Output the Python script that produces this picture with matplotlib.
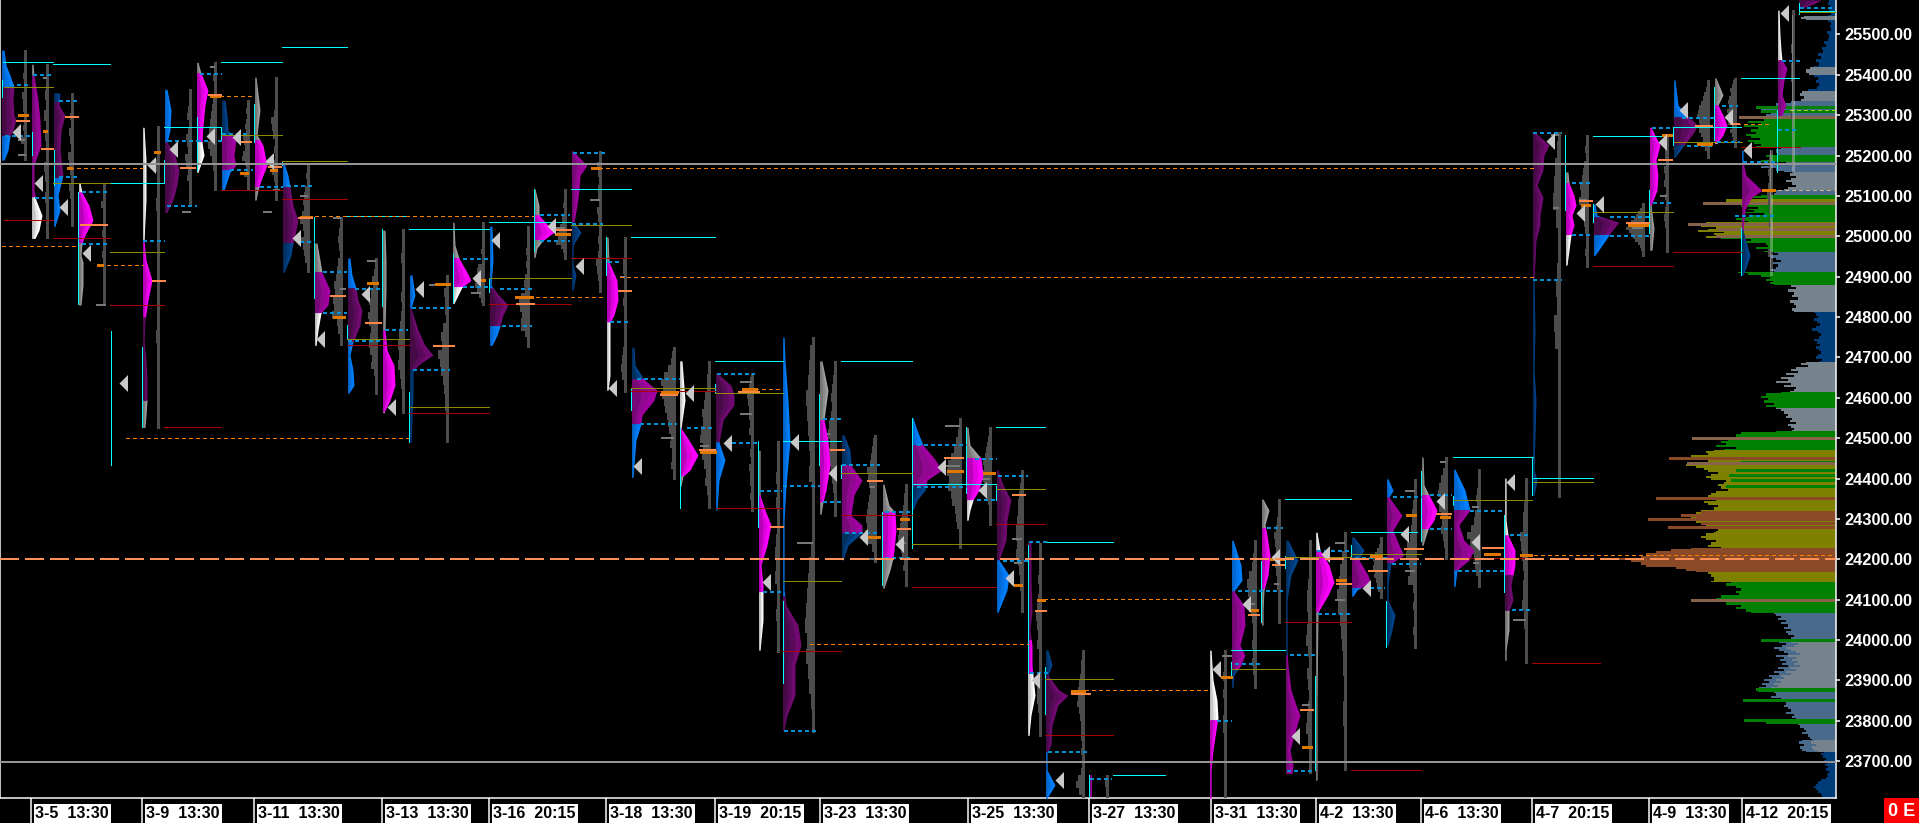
import numpy as np
from matplotlib import pyplot as plt
from matplotlib.patches import Rectangle

# session profiles: left edge, price knots, widths, value area, zone colours
prof_x = [2, 32, 54, 79, 143, 165, 197, 222, 255, 283, 315, 348, 383, 410, 453, 490, 534, 572, 607, 632, 680, 716, 759, 783, 820, 842, 883, 912, 967, 997, 1028, 1046, 1090, 1210, 1232, 1262, 1286, 1316, 1352, 1387, 1422, 1454, 1505, 1533, 1566, 1594, 1650, 1674, 1715, 1742, 1778, 1799]
prof_p = [
    [25461, 25424, 25399, 25370, 25337, 25300, 25288, 25263, 25248, 25213, 25189],
    [25426, 25399, 25337, 25288, 25226, 25176, 25114, 25090, 25052, 25015, 24995],
    [25355, 25325, 25300, 25263, 25213, 25151, 25102, 25065, 25025],
    [25132, 25109, 25077, 25040, 25003, 24983, 24953, 24936, 24879, 24830],
    [25270, 25189, 25090, 24990, 24941, 24891, 24842, 24792, 24743, 24693, 24644, 24594, 24557, 24527],
    [25364, 25313, 25263, 25233, 25201, 25164, 25127, 25090, 25060],
    [25431, 25404, 25362, 25325, 25275, 25233, 25201, 25159],
    [25337, 25300, 25263, 25238, 25201, 25176, 25159, 25114],
    [25394, 25313, 25251, 25226, 25176, 25139, 25114, 25090],
    [25181, 25151, 25122, 25077, 25040, 25003, 24983, 24953, 24911],
    [24983, 24941, 24911, 24867, 24830, 24810, 24768, 24730],
    [24946, 24904, 24872, 24842, 24817, 24780, 24738, 24706, 24669, 24631, 24612],
    [25015, 24941, 24867, 24768, 24718, 24681, 24631, 24594, 24564],
    [24904, 24854, 24822, 24768, 24730, 24706, 24681, 24664, 24607, 24490],
    [25035, 24978, 24946, 24911, 24891, 24874, 24854, 24834],
    [25025, 24941, 24879, 24854, 24830, 24805, 24778, 24755, 24730],
    [25117, 25077, 25052, 25028, 25010, 24990, 24971, 24948],
    [25211, 25176, 25151, 25114, 25077, 25035, 25010, 24978, 24929, 24904, 24867],
    [24998, 24936, 24891, 24842, 24805, 24787, 24718, 24656, 24619],
    [24725, 24681, 24646, 24619, 24594, 24557, 24535, 24495, 24403],
    [24691, 24594, 24525, 24495, 24458, 24421, 24406, 24381],
    [24661, 24631, 24607, 24582, 24545, 24490, 24446, 24396, 24322],
    [24470, 24396, 24359, 24322, 24285, 24235, 24186, 24136, 24119, 24049, 23975],
    [24750, 24693, 24594, 24495, 24381, 24297, 24124, 24086, 24037, 23987, 23938, 23863, 23814, 23777],
    [24691, 24619, 24545, 24495, 24433, 24371, 24342, 24312],
    [24508, 24470, 24433, 24396, 24359, 24309, 24285, 24265, 24235, 24198],
    [24386, 24334, 24317, 24272, 24223, 24203, 24173, 24129],
    [24550, 24520, 24483, 24451, 24421, 24396, 24371, 24347, 24322],
    [24527, 24483, 24451, 24408, 24371, 24347, 24322, 24297],
    [24421, 24384, 24347, 24297, 24247, 24198, 24161, 24124, 24069],
    [24240, 24148, 24074, 24024, 23987, 23938, 23913, 23863, 23814, 23764],
    [23975, 23938, 23913, 23876, 23863, 23839, 23789, 23740, 23722, 23678, 23641, 23608],
    [23665, 23610],
    [23975, 23901, 23851, 23807, 23777, 23727, 23678, 23608],
    [24247, 24186, 24148, 24121, 24086, 24037, 23987, 23963, 23938, 23913, 23883],
    [24349, 24322, 24285, 24260, 24210, 24161, 24124, 24074, 24037],
    [24247, 24198, 24161, 24099, 23975, 23938, 23876, 23839, 23814, 23764, 23727, 23690, 23670],
    [24267, 24223, 24186, 24143, 24111, 24069, 23851, 23653],
    [24255, 24223, 24198, 24161, 24143, 24124, 24109],
    [24399, 24371, 24354, 24309, 24272, 24235, 24210, 24190, 24136, 24099, 24062, 24025, 23987],
    [24453, 24384, 24359, 24322, 24297, 24275, 24235],
    [24423, 24371, 24322, 24285, 24247, 24223, 24198, 24173, 24133],
    [24401, 24297, 24260, 24223, 24186, 24136, 24099, 24074, 24025, 23975, 23950],
    [25258, 25226, 25201, 25164, 25127, 25097, 25052, 25028, 24990, 24891, 24768, 24669, 24594, 24421, 24396, 24359],
    [25159, 25132, 25102, 25077, 25052, 25028, 25003, 24966, 24929],
    [25080, 25052, 25035, 25020, 25003, 24978, 24953],
    [25270, 25226, 25189, 25151, 25114, 25077, 25020, 24966],
    [25387, 25325, 25295, 25275, 25251, 25226, 25196],
    [25392, 25350, 25325, 25300, 25275, 25251, 25231],
    [25213, 25184, 25151, 25114, 25097, 25077, 25065, 25015, 24953, 24929, 24904],
    [25560, 25498, 25461, 25436, 25417, 25387, 25350, 25325, 25300],
    [25585, 25575, 25568],
]
prof_w = [
    [2, 4, 8, 12, 11, 12, 14, 11, 8, 6, 2],
    [1, 2, 6, 8, 9, 2, 2, 4, 10, 7, 3],
    [6, 5, 11, 7, 6, 9, 4, 6, 1],
    [1, 3, 10, 14, 6, 3, 2, 4, 4, 2],
    [1, 3, 3, 1, 3, 9, 5, 2, 1, 3, 4, 4, 3, 2],
    [2, 6, 5, 2, 10, 14, 12, 8, 2],
    [1, 4, 11, 8, 6, 5, 7, 1],
    [3, 5, 6, 14, 12, 14, 8, 2],
    [1, 5, 2, 8, 12, 6, 3, 1],
    [1, 5, 7, 10, 15, 12, 10, 8, 1],
    [2, 5, 7, 15, 13, 6, 3, 1],
    [2, 4, 8, 10, 14, 12, 5, 2, 5, 6, 1],
    [2, 3, 3, 2, 4, 11, 12, 7, 1],
    [2, 5, 1, 8, 15, 23, 8, 3, 3, 1],
    [1, 2, 6, 14, 18, 9, 5, 1],
    [2, 3, 1, 9, 18, 13, 10, 7, 2],
    [1, 5, 5, 14, 20, 9, 3, 1],
    [1, 15, 8, 7, 5, 2, 9, 1, 1, 4, 1],
    [1, 2, 10, 11, 7, 3, 3, 3, 1],
    [2, 3, 12, 25, 22, 10, 9, 4, 1],
    [2, 5, 1, 9, 18, 10, 3, 1],
    [1, 15, 18, 18, 7, 3, 9, 3, 1],
    [1, 1, 1, 6, 12, 8, 2, 4, 4, 4, 1],
    [1, 2, 5, 7, 3, 1, 1, 3, 15, 18, 12, 12, 4, 1],
    [2, 8, 4, 8, 10, 6, 3, 1],
    [2, 8, 9, 20, 12, 9, 20, 20, 6, 1],
    [1, 6, 12, 13, 11, 10, 7, 1],
    [1, 5, 11, 22, 30, 15, 13, 5, 1],
    [1, 3, 14, 16, 12, 6, 3, 1],
    [1, 6, 14, 10, 9, 2, 12, 10, 1],
    [3, 3, 4, 2, 4, 4, 5, 7, 3, 1],
    [2, 6, 2, 13, 22, 12, 6, 5, 1, 1, 9, 1],
    [2, 2],
    [1, 3, 7, 8, 6, 3, 1, 1],
    [1, 9, 10, 2, 12, 13, 8, 13, 9, 2, 1],
    [1, 7, 3, 5, 8, 6, 2, 1, 1],
    [2, 12, 5, 1, 1, 2, 5, 10, 14, 8, 4, 7, 6],
    [1, 4, 13, 18, 12, 2, 1, 1],
    [2, 12, 7, 16, 18, 5, 1],
    [1, 6, 2, 15, 6, 12, 17, 4, 1, 1, 8, 5, 1],
    [1, 2, 7, 15, 12, 6, 1],
    [1, 11, 16, 5, 10, 20, 15, 3, 1],
    [1, 1, 3, 10, 10, 6, 8, 4, 4, 1, 1],
    [2, 16, 11, 10, 4, 10, 7, 7, 3, 1, 2, 1, 3, 1, 4, 1],
    [2, 3, 8, 10, 6, 8, 5, 3, 1],
    [1, 3, 25, 20, 15, 8, 1],
    [1, 10, 6, 8, 7, 1, 4, 2],
    [1, 4, 15, 24, 18, 10, 1],
    [1, 8, 3, 8, 12, 8, 2],
    [1, 1, 4, 20, 10, 5, 3, 1, 8, 5, 1],
    [1, 2, 3, 4, 9, 6, 4, 8, 4],
    [22, 14, 6],
]
prof_vah = [25370, 25399, 25332, 25109, 24990, 25233, 25404, 25250, 25238, 25122, 24911, 24872, 24768, 24822, 24946, 24872, 25052, 25211, 24936, 24646, 24525, 24661, 24359, 24381, 24545, 24433, 24317, 24483, 24451, 24421, 24240, 23913, 23665, 23802, 24121, 24277, 23963, 24223, 24198, 24354, 24359, 24322, 24260, 25258, 25132, 25048, 25270, 25295, 25325, 25184, 25436, 25585]
prof_val = [25248, 25097, 25144, 24983, 24594, 25060, 25233, 25164, 25122, 24983, 24810, 24738, 24564, 24669, 24874, 24778, 24990, 25035, 24787, 24535, 24406, 24490, 24119, 23777, 24342, 24265, 24203, 24381, 24347, 24198, 23918, 23722, 23610, 23608, 23925, 24126, 23670, 24069, 24129, 24190, 24275, 24173, 24074, 24891, 25003, 25003, 25077, 25226, 25231, 25015, 25300, 25568]
prof_top = ['blue', 'grey', 'dkblue', 'white', 'white', 'blue', 'grey', 'dkblue', 'grey', 'blue', 'grey', 'blue', 'grey', 'blue', 'grey', 'blue', 'grey', 'mid', 'grey', 'dkblue', 'white', 'mid', 'grey', 'blue', 'grey', 'dkblue', 'grey', 'blue', 'grey', 'mid', 'mid', 'dkblue', 'mid', 'white', 'blue', 'grey', 'dkblue', 'white', 'dkblue', 'blue', 'grey', 'blue', 'white', 'mid', 'grey', 'blue', 'mid', 'blue', 'grey', 'blue', 'white', 'dark']
prof_mid = ['dark', 'mid', 'dark', 'bright', 'bright', 'dark', 'bright', 'mid', 'bright', 'dark', 'mid', 'dark', 'bright', 'dark', 'bright', 'dark', 'bright', 'mid', 'bright', 'mid', 'bright', 'dark', 'bright', 'blue', 'bright', 'mid', 'bright', 'mid', 'bright', 'dark', 'dark', 'dark', 'mid', 'bright', 'mid', 'bright', 'mid', 'bright', 'mid', 'mid', 'bright', 'mid', 'bright', 'dark', 'bright', 'dark', 'bright', 'dark', 'bright', 'mid', 'mid', 'dark']
prof_bot = ['blue', 'white', 'blue', 'grey', 'grey', 'dark', 'white', 'blue', 'grey', 'dkblue', 'white', 'blue', 'white', 'dkblue', 'white', 'blue', 'grey', 'dkblue', 'white', 'blue', 'grey', 'blue', 'white', 'dark', 'grey', 'dkblue', 'grey', 'dkblue', 'white', 'blue', 'white', 'blue', 'mid', 'bright', 'dkblue', 'grey', 'mid', 'grey', 'blue', 'dkblue', 'grey', 'blue', 'grey', 'dkblue', 'white', 'blue', 'grey', 'dkblue', 'white', 'dkblue', 'mid', 'dark']
# a few sessions change shade inside the value area: index, price, lower shade
split_i = [4, 23, 30, 42]
split_p = [24800, 24110, 24000, 24160]
split_col = ['dark', 'dark', 'bright', 'dark']

# grey profile column that belongs to each session
bar_x = [25, 47, 72, 104, 158, 190, 215, 248, 276, 308, 341, 376, 403, 447, 483, 528, 565, 600, 625, 674, 709, 752, 778, 813, 835, 875, 906, 960, 990, 1022, 1040, 1083, 1107, 1225, 1255, 1279, 1310, 1345, 1381, 1415, 1446, 1479, 1526, 1559, 1587, 1643, 1667, 1708, 1735, 1771, 1793, 1800]
bar_hi = [25461, 25426, 25355, 25132, 25273, 25364, 25431, 25337, 25394, 25181, 25048, 24946, 25018, 24904, 25035, 25025, 25117, 25211, 24998, 24725, 24691, 24661, 24493, 24750, 24691, 24508, 24386, 24550, 24527, 24421, 24240, 23975, 23665, 23975, 24247, 24349, 24247, 24267, 24255, 24399, 24453, 24423, 24401, 25258, 25251, 25082, 25251, 25387, 25392, 25213, 25560, 25568]
bar_lo = [25189, 24995, 25025, 24830, 24525, 25077, 25114, 25114, 25090, 24911, 24730, 24609, 24562, 24490, 24830, 24726, 24944, 24862, 24614, 24398, 24327, 24319, 23970, 23772, 24307, 24193, 24134, 24227, 24285, 24069, 23762, 23608, 23608, 23608, 23881, 24042, 23670, 23678, 24104, 23980, 24200, 24131, 23943, 24354, 24924, 24951, 24961, 25194, 25221, 24904, 25159, 25568]
grey_w = [
    [0, 0, 1, 0, 2, 1, 1, 3, 2, 2, 1, 0, 2, 1, 4, 1, 1, 0],
    [0, 1, 0, 2, 1, 3, 1, 2, 1, 1, 3, 2, 1, 2, 1, 1, 0, 0],
    [0, 0, 1, 2, 1, 3, 2, 1, 4, 3, 2, 1, 3, 2, 1, 1, 0, 0],
    [0, 1, 1, 3, 1, 0, 1, 2, 1, 1, 2, 1, 1, 0, 1, 0, 1, 0],
    [0, 0, 1, 2, 1, 1, 2, 1, 1, 0, 1, 1, 0, 1, 0, 1, 2, 1, 1, 0, 1, 1, 0, 0],
    [0, 1, 1, 2, 3, 1, 2, 4, 3, 2, 5, 4, 2, 3, 1, 1, 0, 0],
    [0, 1, 2, 1, 1, 2, 3, 4, 5, 6, 4, 7, 5, 3, 2, 1, 1, 0],
    [0, 1, 2, 1, 2, 3, 2, 5, 4, 3, 5, 6, 3, 2, 4, 1, 1, 0],
    [0, 0, 1, 1, 0, 2, 5, 4, 3, 1, 2, 1, 2, 4, 2, 1, 1, 0],
    [0, 1, 2, 1, 3, 4, 5, 4, 6, 8, 5, 4, 7, 5, 4, 3, 1, 0],
    [0, 1, 2, 3, 2, 1, 3, 4, 5, 7, 6, 8, 7, 9, 4, 3, 1, 0],
    [0, 1, 2, 4, 3, 5, 7, 6, 8, 7, 5, 6, 7, 6, 4, 5, 2, 1, 1, 0],
    [0, 1, 1, 2, 1, 1, 1, 2, 1, 2, 3, 4, 5, 4, 5, 3, 2, 1, 1, 0],
    [0, 1, 3, 2, 2, 1, 4, 6, 5, 9, 7, 6, 4, 3, 2, 2, 1, 1, 0, 0],
    [0, 0, 1, 0, 1, 1, 2, 1, 1, 5, 6, 5, 4, 8, 6, 4, 2, 1],
    [0, 1, 0, 1, 2, 1, 2, 1, 3, 4, 3, 7, 9, 8, 6, 7, 7, 3, 1, 0],
    [0, 0, 1, 1, 2, 1, 1, 3, 3, 5, 6, 8, 7, 9, 4, 2, 1, 0],
    [0, 1, 3, 2, 1, 2, 2, 1, 3, 2, 1, 1, 2, 1, 2, 4, 3, 2, 1, 0],
    [0, 1, 1, 2, 2, 1, 1, 1, 2, 1, 1, 0, 1, 1, 2, 3, 4, 3, 1, 0],
    [0, 2, 3, 6, 10, 13, 11, 12, 10, 9, 7, 6, 5, 3, 4, 2, 2, 3, 1, 0],
    [0, 1, 2, 2, 4, 5, 7, 6, 8, 9, 6, 7, 5, 3, 4, 2, 1, 0],
    [0, 2, 3, 5, 4, 3, 3, 2, 3, 1, 1, 2, 1, 3, 2, 2, 1, 2, 1, 0],
    [0, 0, 1, 2, 1, 2, 1, 1, 2, 3, 2, 3, 1, 1, 2, 1, 1, 0],
    [0, 3, 4, 5, 7, 6, 5, 4, 3, 4, 1, 0, 1, 1, 2, 4, 5, 6, 7, 8, 6, 7, 5, 4, 2, 1, 0],
    [0, 1, 2, 3, 4, 3, 4, 6, 7, 5, 8, 6, 4, 3, 2, 1, 0, 0],
    [0, 2, 3, 4, 5, 8, 7, 6, 5, 6, 7, 8, 9, 8, 10, 7, 3, 1, 0],
    [0, 1, 2, 2, 3, 4, 5, 6, 7, 8, 6, 5, 4, 2, 3, 1, 0, 0],
    [0, 1, 2, 4, 6, 9, 12, 13, 11, 12, 9, 8, 5, 4, 3, 1, 1, 0],
    [0, 1, 2, 3, 4, 5, 7, 6, 8, 7, 6, 5, 3, 2, 1, 1, 0, 0],
    [0, 1, 2, 3, 4, 4, 5, 6, 6, 5, 6, 4, 3, 2, 2, 1, 1, 0],
    [0, 0, 1, 1, 2, 1, 2, 3, 4, 3, 2, 3, 1, 1, 1, 2, 3, 3, 2, 1, 1, 0],
    [0, 1, 2, 2, 3, 4, 5, 5, 6, 4, 3, 2, 2, 2, 1, 2, 1, 1, 2, 5, 7, 4, 1],
    [1, 2, 1, 0],
    [0, 1, 1, 2, 1, 2, 1, 1, 2, 2, 1, 1, 1, 0, 1, 1, 0, 0],
    [0, 1, 2, 3, 6, 8, 7, 5, 4, 3, 2, 2, 3, 2, 3, 2, 1, 0],
    [0, 1, 1, 2, 3, 5, 4, 3, 2, 4, 3, 2, 2, 1, 1, 1, 0, 0],
    [0, 0, 1, 1, 2, 3, 3, 2, 3, 4, 2, 1, 3, 2, 1, 2, 3, 4, 2, 1, 1, 0],
    [0, 1, 3, 5, 6, 8, 7, 5, 4, 3, 2, 2, 1, 1, 2, 2, 1, 1, 1, 0],
    [0, 1, 2, 4, 6, 8, 7, 8, 6, 7, 5, 4, 3, 1, 0],
    [0, 1, 1, 2, 3, 3, 4, 5, 8, 9, 6, 5, 7, 2, 1, 2, 1, 1, 2, 1, 0],
    [0, 1, 3, 5, 7, 8, 6, 7, 5, 4, 5, 3, 2, 1, 0],
    [0, 1, 1, 2, 3, 2, 4, 5, 8, 12, 9, 8, 5, 4, 3, 1, 0],
    [0, 1, 1, 2, 3, 3, 6, 5, 4, 3, 2, 3, 3, 4, 2, 2, 1, 1, 0, 0],
    [0, 2, 4, 5, 6, 3, 1, 1, 2, 3, 2, 5, 4, 1, 0, 0, 1, 0, 0, 0, 0, 0],
    [0, 1, 2, 1, 3, 4, 5, 7, 6, 8, 6, 4, 3, 2, 1, 1, 2, 1, 0],
    [0, 1, 3, 5, 7, 9, 12, 15, 17, 14, 12, 10, 8, 5, 3, 2, 1, 0],
    [0, 1, 2, 2, 1, 3, 2, 3, 1, 2, 1, 2, 3, 2, 1, 1, 0, 0],
    [0, 1, 2, 4, 5, 7, 9, 10, 11, 9, 8, 9, 7, 5, 6, 3, 1, 0],
    [1, 2, 3, 5, 4, 6, 7, 6, 8, 6, 5, 7, 3, 5, 3, 2, 1, 0],
    [1, 2, 2, 3, 2, 3, 4, 3, 2, 1, 2, 1, 1, 0, 3, 1, 1, 0],
    [0, 1, 1, 1, 2, 1, 2, 2, 1, 1, 1, 2, 1, 1, 0, 1, 1, 0],
    [0, 0],
]
grey_tick_x1 = [18, 18, 43, 96, 96, 182, 210, 273, 263, 300, 333, 340, 367, 429, 471, 555, 590, 620, 660, 661, 700, 740, 740, 797, 820, 870, 868, 900, 945, 945, 975, 1012, 1014, 1222, 1246, 1274, 1302, 1335, 1335, 1370, 1405, 1405, 1440, 1472, 1473, 1513, 1551, 1553, 1632, 1579, 1660]
grey_tick_x2 = [26, 25, 47, 105, 106, 191, 215, 280, 272, 308, 341, 346, 376, 447, 481, 565, 600, 625, 672, 674, 709, 752, 752, 813, 830, 875, 875, 906, 960, 960, 990, 1022, 1022, 1232, 1255, 1279, 1310, 1345, 1345, 1381, 1415, 1415, 1446, 1479, 1479, 1526, 1559, 1559, 1643, 1587, 1667]
grey_tick_p = [25201, 25238, 25392, 25028, 24830, 25060, 25419, 25114, 25060, 25100, 25045, 24870, 24940, 24880, 24860, 25020, 25090, 24900, 24610, 24500, 24480, 24640, 24560, 24240, 24510, 24380, 24200, 24240, 24530, 24430, 24400, 24250, 24190, 23960, 24090, 24140, 23840, 24240, 24100, 24170, 24370, 24170, 24440, 24330, 24190, 24050, 25250, 25070, 25020, 25090, 25100]

# composite profile at the right edge, bands from the top down
comp_hi = [25585, 25545, 25535, 25419, 25399, 25360, 25335, 25325, 25298, 25221, 25201, 25184, 25159, 25114, 25102, 25035, 24995, 24961, 24911, 24879, 24812, 24688, 24614, 24574, 24517, 24470, 24347, 24267, 24228, 24168, 24143, 24079, 24067, 24000, 23881, 23871, 23752, 23722, 23658]
comp_lo = [25545, 25535, 25419, 25399, 25360, 25335, 25325, 25298, 25221, 25201, 25184, 25159, 25114, 25102, 25035, 24995, 24961, 24911, 24879, 24812, 24688, 24614, 24574, 24517, 24470, 24347, 24267, 24228, 24168, 24143, 24079, 24067, 24000, 23881, 23871, 23752, 23722, 23658, 23608]
comp_col = ['dkblue', 'grey', 'dkblue', 'grey', 'dkblue', 'grey', 'slate', 'slate', 'green', 'slate', 'green', 'slate', 'grey', 'slate', 'green', 'olive', 'green', 'slate', 'green', 'grey', 'dkblue', 'grey', 'green', 'grey', 'green', 'olive', 'olive', 'olive', 'rust', 'olive', 'green', 'green', 'slate', 'grey', 'green', 'slate', 'grey', 'dkblue', 'dkblue']
comp_w = [
    [7, 8, 6, 7, 5, 8],
    [32, 35, 30],
    [8, 5, 6, 5, 9, 7, 8, 12, 10, 14, 13, 18, 15, 20, 17, 22],
    [26, 30, 27],
    [22, 18, 20, 17, 19, 28],
    [34, 36, 32, 35],
    [45, 60],
    [60, 75, 65, 70],
    [97, 80, 72, 88, 75, 92, 78, 85, 80, 90, 85, 76, 88, 82, 75, 80],
    [55, 60, 58],
    [70, 65, 75],
    [50, 65, 75, 60, 52],
    [42, 46, 40, 45, 50, 44, 40, 48, 52],
    [60, 62],
    [75, 85, 70, 90, 100, 80, 85, 95, 78, 88, 82, 92, 72, 85, 90, 100, 95, 88],
    [130, 148, 125, 135, 120, 128, 138, 112, 122, 118, 130, 135],
    [115, 85, 90, 70, 68, 80, 65, 72],
    [62, 58, 65, 60, 55, 63, 58, 60, 66, 62],
    [98, 88, 75, 66, 70, 63, 66, 62],
    [45, 40, 48, 42, 44, 38, 46, 42, 40, 44, 42],
    [22, 20, 18, 22, 19, 16, 20, 24, 18, 15, 17, 22, 19, 16, 20, 17, 15, 18, 20, 14, 17],
    [30, 35, 28, 40, 45, 38, 50, 42, 55, 48, 60, 45, 52, 40, 42, 46],
    [55, 70, 75, 68, 72, 62, 70, 60],
    [60, 55, 52, 48, 50, 44, 46, 40, 48, 45, 42, 44],
    [60, 95, 100, 105, 108, 115, 110, 120, 100, 112],
    [122, 130, 128, 145, 125, 128, 135, 150, 140, 132, 128, 118, 125, 130, 125, 110, 112, 118, 115, 108, 120, 125, 128, 122, 118],
    [120, 132, 128, 118, 122, 135, 140, 130, 145, 128, 140, 132, 130, 122, 118, 120],
    [122, 130, 135, 130, 120, 125, 128, 115],
    [145, 165, 180, 190, 195, 220, 205, 195, 190, 160, 150, 140],
    [128, 125, 122, 125],
    [105, 110, 100, 95, 100, 97, 115, 120, 105, 110, 95, 100],
    [100, 90, 85],
    [62, 60, 55, 58, 50, 55, 48, 52, 45, 50, 48, 42, 45, 40],
    [40, 45, 38, 42, 50, 45, 40, 36, 48, 40, 44, 38, 42, 36, 46, 40, 50, 45, 55, 52, 60, 55, 62, 58, 65],
    [80, 78],
    [62, 60, 65, 55, 58, 50, 52, 48, 45, 50, 42, 44, 40, 45, 38, 36, 32, 30, 34, 28, 26, 24],
    [22, 25, 20, 24, 22, 18],
    [12, 15, 13, 10, 12, 9, 11, 8, 10, 7, 9, 8, 10],
    [10, 15, 18, 20, 22, 20, 18, 15, 14, 12],
]
spike_p = [25320, 25310, 25295, 25090, 25082, 25030, 25018, 25000, 24441, 24421, 24408, 24396, 24381, 24500, 24451, 24438, 24352, 24309, 24300, 24280, 24317, 24302, 24290, 24099, 24000, 23878, 23851, 23802, 23796]
spike_w = [80, 75, 97, 110, 133, 148, 118, 120, 95, 100, 107, 105, 110, 144, 167, 149, 180, 155, 188, 168, 135, 140, 135, 145, 75, 80, 93, 92, 70]
spike_col = ['green', 'green', 'brown', 'olive', 'brown', 'brown', 'brown', 'brown', 'green', 'green', 'green', 'green', 'green', 'brown', 'rust', 'brown', 'rust', 'rust', 'rust', 'rust', 'rust', 'rust', 'rust', 'brown', 'green', 'green', 'green', 'green', 'green']

# level lines: start, end, price
cyan_x1 = [3, 53, 164, 221, 282, 110, 347, 409, 489, 571, 631, 715, 783, 841, 912, 996, 1045, 1113, 1231, 1285, 1351, 1453, 1533, 1593, 1673, 1741, 1799]
cyan_x2 = [53, 110, 221, 282, 347, 164, 409, 489, 571, 631, 715, 783, 841, 912, 996, 1045, 1113, 1165, 1285, 1351, 1417, 1533, 1593, 1673, 1741, 1799, 1835]
cyan_p = [25433, 25426, 25270, 25433, 25469, 25132, 25050, 25018, 25035, 25117, 24998, 24691, 24493, 24691, 24386, 24527, 24242, 23665, 23975, 24349, 24267, 24453, 24401, 25248, 25270, 25392, 25558]
cyan_vx = [1.5, 31.5, 53.5, 78, 110.5, 142, 164, 196.5, 221, 254, 282, 314, 347, 382, 409, 453, 489, 534, 606, 631, 680, 715, 758, 783, 819, 841, 882, 912, 966, 996, 1028, 1045, 1089, 1231, 1261, 1285, 1315, 1351, 1386, 1421, 1453, 1504, 1532, 1565, 1593, 1649, 1673, 1714, 1741, 1777, 1799]
cyan_vhi = [25387, 25258, 25213, 25109, 24765, 24725, 25189, 25295, 25270, 25327, 25186, 25048, 24780, 25018, 24614, 24956, 24896, 25117, 24998, 24624, 24525, 24634, 24493, 24096, 24609, 24433, 24317, 24550, 24527, 24381, 24235, 23933, 23665, 23945, 24195, 24208, 23911, 24235, 24096, 24418, 24356, 24309, 24453, 25251, 25080, 25114, 25270, 25370, 25020, 25313, 25578]
cyan_vlo = [25345, 25201, 25127, 24832, 24433, 24527, 25132, 25164, 25236, 25233, 25176, 24847, 24748, 24827, 24490, 24837, 24862, 24963, 24904, 24569, 24327, 24612, 24280, 23893, 24433, 24401, 24136, 24228, 24364, 24347, 23918, 23816, 23608, 23908, 24044, 24178, 23678, 24203, 23982, 24245, 24334, 24119, 24359, 25065, 25035, 25008, 25226, 25238, 24904, 25159, 25550]
olive_x1 = [4, 53, 110, 221, 282, 347, 409, 489, 571, 631, 715, 783, 841, 912, 996, 1045, 1231, 1285, 1351, 1453, 1533, 1593, 1674, 1799]
olive_x2 = [53, 110, 164, 282, 347, 409, 489, 571, 631, 715, 783, 841, 912, 996, 1045, 1113, 1285, 1351, 1421, 1532, 1593, 1673, 1742, 1835]
olive_p = [25370, 25132, 24961, 25251, 25186, 24745, 24577, 24896, 25028, 24624, 24612, 24146, 24413, 24237, 24374, 23903, 23928, 24205, 24213, 24346, 24391, 25060, 25233, 25555]
red_x1 = [4, 53, 110, 221, 282, 347, 409, 489, 571, 631, 164, 783, 841, 716, 912, 996, 1045, 1285, 1351, 1453, 1532, 1593, 1673, 1741]
red_x2 = [53, 110, 164, 282, 347, 409, 489, 571, 631, 715, 221, 841, 912, 783, 996, 1045, 1113, 1351, 1421, 1532, 1600, 1673, 1741, 1800]
red_p = [25040, 24995, 24830, 25114, 25092, 24730, 24562, 24832, 24946, 24617, 24527, 23972, 24309, 24327, 24131, 24287, 23764, 24044, 23678, 24203, 23943, 24926, 24961, 25221]
dash_x1 = [2, 70, 100, 220, 315, 515, 592, 620, 126, 748, 810, 1037, 1085, 1730, 1527]
dash_x2 = [75, 143, 143, 255, 533, 603, 1533, 1533, 408, 783, 1028, 1232, 1210, 1770, 1835]
dash_p = [24976, 25169, 24929, 25347, 25050, 24849, 25169, 24899, 24500, 24621, 23990, 24101, 23876, 25278, 24210]
tan_x1 = [1764, 1790]
tan_x2 = [1835, 1835]
tan_p = [25114, 25313]
tan_col = ['#d8b080', '#a0d020']
va_x1 = [10, 33, 5, 59, 59, 35, 82, 82, 143, 168, 167, 200, 197, 222, 230, 260, 287, 300, 323, 323, 355, 348, 385, 412, 413, 463, 463, 500, 502, 540, 540, 573, 572, 608, 610, 637, 640, 687, 717, 732, 760, 763, 783, 823, 823, 842, 845, 885, 885, 917, 917, 975, 977, 998, 1003, 1030, 1029, 784, 1048, 1090, 1217, 1235, 1238, 1267, 1290, 1287, 1317, 1318, 1355, 1370, 1393, 1392, 1430, 1430, 1470, 1458, 1510, 1512, 1533, 1533, 1572, 1572, 1610, 1610, 1652, 1653, 1682, 1687, 1722, 1717, 1743, 1735, 1778, 1782, 1800]
va_x2 = [29, 52, 30, 77, 77, 53, 108, 108, 165, 197, 197, 222, 222, 248, 253, 283, 313, 315, 347, 347, 382, 382, 408, 453, 450, 490, 490, 532, 532, 570, 570, 607, 603, 622, 630, 680, 677, 715, 755, 758, 782, 784, 820, 841, 841, 880, 878, 912, 912, 967, 967, 997, 997, 1028, 1030, 1050, 1050, 818, 1090, 1112, 1232, 1262, 1283, 1283, 1315, 1315, 1352, 1352, 1387, 1385, 1422, 1421, 1452, 1452, 1504, 1504, 1530, 1533, 1562, 1562, 1593, 1593, 1650, 1650, 1673, 1672, 1715, 1715, 1738, 1740, 1778, 1777, 1797, 1800, 1833]
va_p = [25374, 25399, 25248, 25335, 25147, 25095, 25109, 24981, 24988, 25236, 25075, 25402, 25236, 25253, 25164, 25122, 25124, 24986, 24911, 24810, 24869, 24740, 24768, 24822, 24669, 24943, 24874, 24869, 24777, 25052, 24988, 25206, 25030, 24936, 24787, 24646, 24535, 24525, 24659, 24488, 24369, 24119, 24381, 24547, 24342, 24433, 24265, 24317, 24203, 24483, 24379, 24448, 24346, 24406, 24195, 23918, 24242, 23774, 23722, 23655, 23799, 23940, 24121, 24277, 23963, 23675, 24220, 24064, 24203, 24129, 24354, 24188, 24359, 24275, 24319, 24171, 24260, 24074, 25256, 24891, 25132, 25003, 25047, 25000, 25268, 25082, 25293, 25223, 25322, 25233, 25184, 25050, 25263, 25434, 25565]
poc_x1 = [16, 41, 65, 80, 152, 180, 208, 240, 268, 298, 330, 365, 433, 516, 555, 618, 660, 699, 738, 770, 830, 867, 897, 944, 1012, 1035, 1071, 1248, 1272, 1300, 1336, 1368, 1404, 1436, 1482, 1579, 1626, 1658, 1695, 1730]
poc_x2 = [30, 54, 79, 108, 166, 196, 222, 252, 282, 313, 346, 382, 455, 535, 572, 632, 678, 716, 760, 784, 845, 883, 911, 964, 1026, 1047, 1091, 1260, 1285, 1314, 1352, 1388, 1424, 1452, 1504, 1593, 1650, 1673, 1713, 1740]
poc_p = [25285, 25216, 25295, 25028, 24889, 25169, 25350, 25233, 25171, 25045, 24852, 24785, 24728, 24832, 25015, 24864, 24607, 24470, 24614, 24280, 24470, 24394, 24275, 24450, 24359, 24072, 23866, 24062, 24186, 23826, 24138, 24171, 24225, 24312, 24228, 25087, 25033, 25189, 25273, 25278]
vwap_x1 = [18, 43, 67, 97, 154, 210, 240, 270, 300, 333, 367, 435, 475, 515, 555, 591, 661, 700, 742, 865, 900, 947, 983, 1014, 1037, 1071, 1221, 1249, 1270, 1302, 1336, 1370, 1406, 1440, 1484, 1520, 1581, 1628, 1662, 1697, 1762]
vwap_x2 = [28, 47, 72, 103, 160, 220, 248, 277, 312, 345, 378, 450, 485, 533, 570, 600, 678, 716, 757, 880, 909, 963, 995, 1022, 1045, 1085, 1232, 1258, 1284, 1312, 1346, 1382, 1416, 1450, 1500, 1532, 1590, 1648, 1672, 1712, 1775]
vwap_p = [25300, 25261, 25169, 24929, 25209, 25347, 25156, 25164, 25047, 24800, 24884, 24882, 24891, 24849, 25005, 25169, 24614, 24465, 24621, 24255, 24299, 24418, 24413, 24136, 24099, 23873, 23908, 24074, 24200, 23735, 24148, 24208, 24309, 24304, 24213, 24210, 25077, 25028, 25251, 25228, 25114]
tri_x = [12, 34, 59, 82, 147, 169, 206, 232, 265, 292, 361, 415, 316, 119, 387, 472, 491, 547, 575, 608, 685, 633, 723, 790, 762, 828, 859, 895, 937, 978, 1005, 1031, 1055, 1212, 1242, 1271, 1291, 1321, 1362, 1400, 1436, 1471, 1506, 1546, 1576, 1595, 1658, 1679, 1724, 1743, 1780]
tri_p = [25258, 25132, 25072, 24958, 25176, 25216, 25248, 25246, 25186, 24995, 24857, 24869, 24745, 24636, 24577, 24896, 24990, 25025, 24926, 24624, 24612, 24431, 24488, 24490, 24143, 24413, 24255, 24237, 24428, 24371, 24153, 23901, 23653, 23928, 24089, 24205, 23762, 24213, 24129, 24262, 24344, 24242, 24391, 25236, 25057, 25080, 25233, 25313, 25295, 25213, 25553]

grey_level_p = [25179, 23699]
poc_level = 24200

ytick_vals = np.arange(23700, 25600, 100)
date_x = [31, 142, 254, 382, 489, 606, 715, 820, 968, 1089, 1211, 1316, 1421, 1532, 1649, 1742]
date_lab = ['3-5  13:30', '3-9  13:30', '3-11  13:30', '3-13  13:30', '3-16  20:15', '3-18  13:30', '3-19  20:15', '3-23  13:30', '3-25  13:30', '3-27  13:30', '3-31  13:30', '4-2  13:30', '4-6  13:30', '4-7  20:15', '4-9  13:30', '4-12  20:15']

shades = {
    'bright': ['#ff00ff', '#e000e0', '#b800b8'],
    'mid': ['#a000a0', '#900890', '#780878'],
    'dark': ['#700a70', '#5a0a5a', '#460a46'],
    'blue': ['#0080ff', '#0074e8', '#0068d0'],
    'dkblue': ['#00448c', '#003a78', '#003060'],
    'white': ['#ffffff', '#e8e8e8', '#c8c8c8'],
    'grey': ['#a0a0a0', '#8c8c8c', '#787878'],
}
comp_colors = {'dkblue': '#003c78', 'grey': '#76828c', 'slate': '#4a6a8c', 'green': '#008000',
               'olive': '#808000', 'brown': '#86634a', 'rust': '#8a4a28'}
layer_scale = [1.0, 0.68, 0.36]
px = 0.72
column_grey = '#4c4c4c'

fig = plt.figure(figsize=(19.19, 8.23), dpi=100, facecolor='black')
ax = fig.add_axes([0, 25 / 823, 1836 / 1919, 798 / 823], facecolor='black')
ax.set_xlim(0, 1836)
ax.set_ylim(23608.7, 25585.4)

# composite on the right, the lower grey bands keep a slate rim
for hi, lo, col, w in zip(comp_hi, comp_lo, comp_col, comp_w):
    y = np.linspace(hi, lo, len(w))
    w = np.array(w)
    if col == 'grey' and hi <= 24000:
        ax.fill_betweenx(y, 1836 - w - 12, 1836, step='mid', color=comp_colors['slate'], lw=0, zorder=1, antialiased=False)
    ax.fill_betweenx(y, 1836 - w, 1836, step='mid', color=comp_colors[col], lw=0, zorder=1, antialiased=False)
for p, w, col in zip(spike_p, spike_w, spike_col):
    ax.hlines(p, 1836 - w, 1836, color=comp_colors[col], lw=px * 1.4, zorder=1.5, antialiased=False)

# grey columns
for x, hi, lo, w in zip(bar_x, bar_hi, bar_lo, grey_w):
    y = np.linspace(hi, lo, len(w))
    ax.fill_betweenx(y, x - np.array(w), x, step='mid', color=column_grey, lw=0, zorder=2, antialiased=False)
    if hi > lo:
        if x > 1750:
            ax.vlines(x, lo, hi, color='white', alpha=0.3, lw=3 * px, zorder=6, antialiased=False)
        else:
            ax.vlines(x, lo, hi, color=column_grey, lw=3 * px, zorder=3, antialiased=False)
ax.hlines(grey_tick_p, grey_tick_x1, grey_tick_x2, color='#787878', lw=2 * px, zorder=3, antialiased=False)

# session profiles, three shaded layers in three zones
for i in range(len(prof_x)):
    p = np.array(prof_p[i])
    w = np.array(prof_w[i], dtype=float)
    zones = [(p.max() + 5, prof_vah[i], prof_top[i]),
             (prof_vah[i], prof_val[i], prof_mid[i]),
             (prof_val[i], p.min() - 5, prof_bot[i])]
    if i in split_i:
        k = split_i.index(i)
        zones[1] = (prof_vah[i], split_p[k], prof_mid[i])
        zones.append((split_p[k], prof_val[i], split_col[k]))
    for hi, lo, name in zones:
        if hi <= lo:
            continue
        box = Rectangle((prof_x[i] - 2, lo), 60, hi - lo, transform=ax.transData)
        for k in range(3):
            poly = ax.fill_betweenx(p, prof_x[i], prof_x[i] + w * layer_scale[k], color=shades[name][k], lw=0, zorder=4 + k * 0.1)
            poly.set_clip_path(box)

# level lines
ax.hlines(cyan_p, cyan_x1, cyan_x2, color='#00ffff', lw=px, zorder=5, antialiased=False)
ax.vlines(cyan_vx, cyan_vlo, cyan_vhi, color='#00ffff', lw=px, zorder=5, antialiased=False)
ax.hlines(olive_p, olive_x1, olive_x2, color='#8c8c00', lw=px, zorder=5, antialiased=False)
ax.hlines(red_p, red_x1, red_x2, color='#a80000', lw=px, zorder=5, antialiased=False)
ax.hlines(dash_p, dash_x1, dash_x2, color='#ff8000', lw=px, linestyles=(0, (4, 4)), zorder=5, antialiased=False)
for x1, x2, p, c in zip(tan_x1, tan_x2, tan_p, tan_col):
    ax.hlines(p, x1, x2, color=c, lw=px, linestyles=(0, (4, 4)), zorder=5, antialiased=False)
ax.hlines(va_p, va_x1, va_x2, color='#0090d8', lw=2 * px, linestyles=(0, (1.5, 1.5)), zorder=6, antialiased=False)
ax.hlines(vwap_p, vwap_x1, vwap_x2, color='#e07800', lw=2.6 * px, zorder=6.5, antialiased=False)
ax.hlines(poc_p, poc_x1, poc_x2, color='#ff8848', lw=2 * px, zorder=7, antialiased=False)

# markers
tri = [(0, 0), (1.0, 1), (1.0, -1)]
ax.scatter(tri_x, tri_p, marker=tri, s=150, color='#c8c8c8', lw=0, zorder=8, antialiased=False)

ax.hlines(grey_level_p, 0, 1836, color='#949494', lw=2 * px, zorder=9, antialiased=False)
ax.hlines(poc_level, 0, 1836, color='#ff9058', lw=1.5 * px, linestyles=(0, (12, 4)), zorder=9, antialiased=False)

# axes
ax.spines['top'].set_visible(False)
for side in ['left', 'bottom', 'right']:
    ax.spines[side].set_color('white')
    ax.spines[side].set_linewidth(1.5 * px)
ax.yaxis.tick_right()
ax.set_yticks(ytick_vals)
ax.set_yticklabels(['%.2f' % v for v in ytick_vals], family='Liberation Sans', weight='bold', fontsize=11.8, color='white')
ax.tick_params(axis='y', length=3 * px * 1.4, width=1.5 * px, color='white', pad=3)
ax.set_xticks(date_x)
ax.set_xticklabels([])
ax.tick_params(axis='x', length=25 * px, width=1.5 * px, color='white')
for x, lab in zip(date_x, date_lab):
    ax.annotate(lab, xy=(x, 0), xycoords=('data', 'axes fraction'), xytext=(3.2, -6), textcoords='offset points',
                ha='left', va='top', family='Liberation Sans', weight='bold', fontsize=11.5, color='black',
                bbox=dict(boxstyle='square,pad=0.12', fc='white', ec='none'), annotation_clip=False)
fig.text(1902 / 1919, 11.5 / 823, '0 E', family='Liberation Sans', weight='bold', fontsize=13, color='white', ha='center', va='center',
         bbox=dict(boxstyle='square,pad=0.25', fc='#ff0000', ec='none'))

plt.savefig('out.png', dpi=100, facecolor='black')
